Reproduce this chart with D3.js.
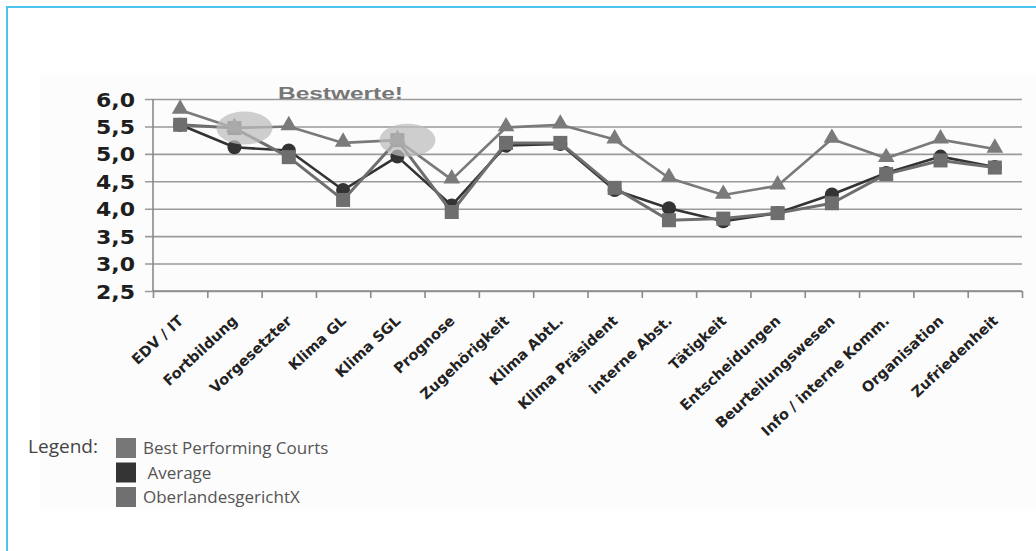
<!DOCTYPE html>
<html>
<head>
<meta charset="utf-8">
<script src="https://d3js.org/d3.v7.min.js"></script>
<style>
  body { margin: 0; background: #fff; }
  svg { display: block; }
</style>
</head>
<body>
<div id="chart"></div>
<script>
// categories along the x axis
var categories = ["EDV / IT", "Fortbildung", "Vorgesetzter", "Klima GL", "Klima SGL", "Prognose",
  "Zugehörigkeit", "Klima AbtL.", "Klima Präsident", "interne Abst.", "Tätigkeit",
  "Entscheidungen", "Beurteilungswesen", "Info / interne Komm.", "Organisation", "Zufriedenheit"];

// series values
var bestCourts = [5.80, 5.47, 5.50, 5.20, 5.25, 4.53, 5.48, 5.53, 5.26, 4.56, 4.25, 4.42, 5.27, 4.92, 5.26, 5.09];
var average    = [5.53, 5.12, 5.06, 4.34, 4.95, 4.06, 5.15, 5.18, 4.34, 4.01, 3.77, 3.92, 4.26, 4.65, 4.95, 4.76];
var olgX       = [5.53, 5.47, 4.94, 4.16, 5.25, 3.94, 5.20, 5.20, 4.38, 3.79, 3.82, 3.92, 4.10, 4.63, 4.88, 4.75];

var yTicks = [2.5, 3.0, 3.5, 4.0, 4.5, 5.0, 5.5, 6.0];
var highlights = ["Fortbildung", "Klima SGL"];   // "Bestwerte!" markers
var legendLabels = ["Best Performing Courts", " Average", "OberlandesgerichtX"];

var svgWidth = 1036, svgHeight = 551;
var margin = { top: 99, left: 153, right: 14, bottom: 260 };
var width = svgWidth - margin.left - margin.right;
var height = svgHeight - margin.top - margin.bottom;

var svg = d3.select("#chart").append("svg")
  .attr("width", svgWidth)
  .attr("height", svgHeight);

// cyan frame (left and top only) + light panel
svg.append("rect").attr("x", 40).attr("y", 75).attr("width", 996).attr("height", 434).attr("fill", "#fcfcfc");
svg.append("line").attr("x1", 7).attr("x2", 1036).attr("y1", 7).attr("y2", 7)
  .attr("stroke", "#4cc3ec").attr("stroke-width", 2);
svg.append("line").attr("x1", 7).attr("x2", 7).attr("y1", 6).attr("y2", 551)
  .attr("stroke", "#4cc3ec").attr("stroke-width", 2);

var chartGroup = svg.append("g")
  .attr("transform", `translate(${margin.left}, ${margin.top})`);

var x = d3.scaleBand().domain(categories).range([0, width]).padding(0);
var xEdge = d3.scaleLinear().domain([0, categories.length]).range([0, width]);
var y = d3.scaleLinear().domain([2.5, 6.0]).range([height, 0]);
var cx = function(i) { return x(categories[i]) + x.bandwidth() / 2; };

// gridlines + y axis labels
var yAxis = d3.axisLeft(y)
  .tickValues(yTicks)
  .tickSize(-width)
  .tickPadding(18)
  .tickFormat(function(d) { return d3.format(".1f")(d).replace(".", ","); });
var yg = chartGroup.append("g").call(yAxis);
yg.select(".domain").remove();
yg.selectAll(".tick line").attr("x1", -8).attr("stroke", "#9a9a9a").attr("stroke-width", 1.6);
yg.selectAll(".tick text")
  .attr("font-family", "DejaVu Sans")
  .attr("font-weight", "bold")
  .attr("font-size", 19.5)
  .attr("fill", "#1e1e1e")
  .attr("textLength", 39)
  .attr("lengthAdjust", "spacingAndGlyphs")
  .attr("dy", "0.36em");

// y axis line
chartGroup.append("line").attr("x1", 0).attr("x2", 0).attr("y1", 0).attr("y2", height)
  .attr("stroke", "#8a8a8a").attr("stroke-width", 1.6);

// x axis with ticks between categories
var xAxis = d3.axisBottom(xEdge).tickValues(d3.range(categories.length + 1)).tickSize(7).tickFormat("");
var xg = chartGroup.append("g").attr("transform", `translate(0, ${height})`).call(xAxis);
xg.select(".domain").attr("stroke", "#8a8a8a").attr("stroke-width", 1.6).attr("d", `M0,0H${width}`);
xg.selectAll(".tick line").attr("stroke", "#8a8a8a").attr("stroke-width", 1.6);

// rotated category labels
chartGroup.selectAll(".xlabel")
  .data(categories)
  .enter()
  .append("text")
  .attr("class", "xlabel")
  .attr("text-anchor", "end")
  .attr("font-family", "DejaVu Sans")
  .attr("font-weight", "bold")
  .attr("font-size", 14.5)
  .attr("fill", "#222")
  .attr("transform", function(d) {
    return `translate(${x(d) + x.bandwidth() / 2 + 4}, ${height + 31}) rotate(-43)`;
  })
  .text(function(d) { return d; });

// series lines + markers
var line = d3.line().x(function(d, i) { return cx(i); }).y(function(d) { return y(d); });

function drawLine(values, color, w) {
  chartGroup.append("path")
    .datum(values)
    .attr("d", line)
    .attr("fill", "none")
    .attr("stroke", color)
    .attr("stroke-width", w)
    .attr("stroke-linejoin", "round");
}

drawLine(average, "#333333", 2.6);
chartGroup.selectAll(".avg").data(average).enter().append("circle")
  .attr("cx", function(d, i) { return cx(i); })
  .attr("cy", function(d) { return y(d); })
  .attr("r", 7)
  .attr("fill", "#333333");

drawLine(olgX, "#6e6e6e", 3);
chartGroup.selectAll(".olg").data(olgX).enter().append("rect")
  .attr("x", function(d, i) { return cx(i) - 7; })
  .attr("y", function(d) { return y(d) - 7; })
  .attr("width", 14).attr("height", 14)
  .attr("fill", "#6e6e6e");

drawLine(bestCourts, "#7a7a7a", 2.6);
var tri = d3.symbol().type(d3.symbolTriangle).size(120);
chartGroup.selectAll(".best").data(bestCourts).enter().append("path")
  .attr("d", tri)
  .attr("transform", function(d, i) { return `translate(${cx(i)}, ${y(d) - 1})`; })
  .attr("fill", "#7a7a7a");

// "Bestwerte!" highlight ellipses
chartGroup.selectAll(".hl").data(highlights).enter().append("ellipse")
  .attr("cx", function(d) { return x(d) + x.bandwidth() / 2 + 10; })
  .attr("cy", function(d) { return y(olgX[categories.indexOf(d)]); })
  .attr("rx", 28)
  .attr("ry", 16.5)
  .attr("fill", "#bcbcbc")
  .attr("fill-opacity", 0.72);

svg.append("text")
  .attr("x", 278)
  .attr("y", 99)
  .attr("font-family", "Liberation Sans")
  .attr("font-weight", "bold")
  .attr("font-size", 16)
  .attr("fill", "#777")
  .attr("textLength", 125)
  .attr("lengthAdjust", "spacingAndGlyphs")
  .text("Bestwerte!");

// legend
var legendColors = ["#777777", "#333333", "#707070"];
svg.append("text")
  .attr("x", 28).attr("y", 453)
  .attr("font-family", "Open Sans")
  .attr("font-size", 17.5)
  .attr("fill", "#444")
  .attr("textLength", 70)
  .attr("lengthAdjust", "spacingAndGlyphs")
  .text("Legend:");
var legend = svg.selectAll(".legend").data(legendLabels).enter().append("g")
  .attr("transform", function(d, i) { return `translate(116, ${438 + i * 24.5})`; });
legend.append("rect")
  .attr("width", 20).attr("height", 20)
  .attr("fill", function(d, i) { return legendColors[i]; });
legend.append("text")
  .attr("x", 27).attr("y", 16)
  .attr("font-family", "Open Sans")
  .attr("font-size", 17)
  .attr("fill", "#555")
  .attr("xml:space", "preserve")
  .style("white-space", "pre")
  .text(function(d) { return d; });
</script>
</body>
</html>
